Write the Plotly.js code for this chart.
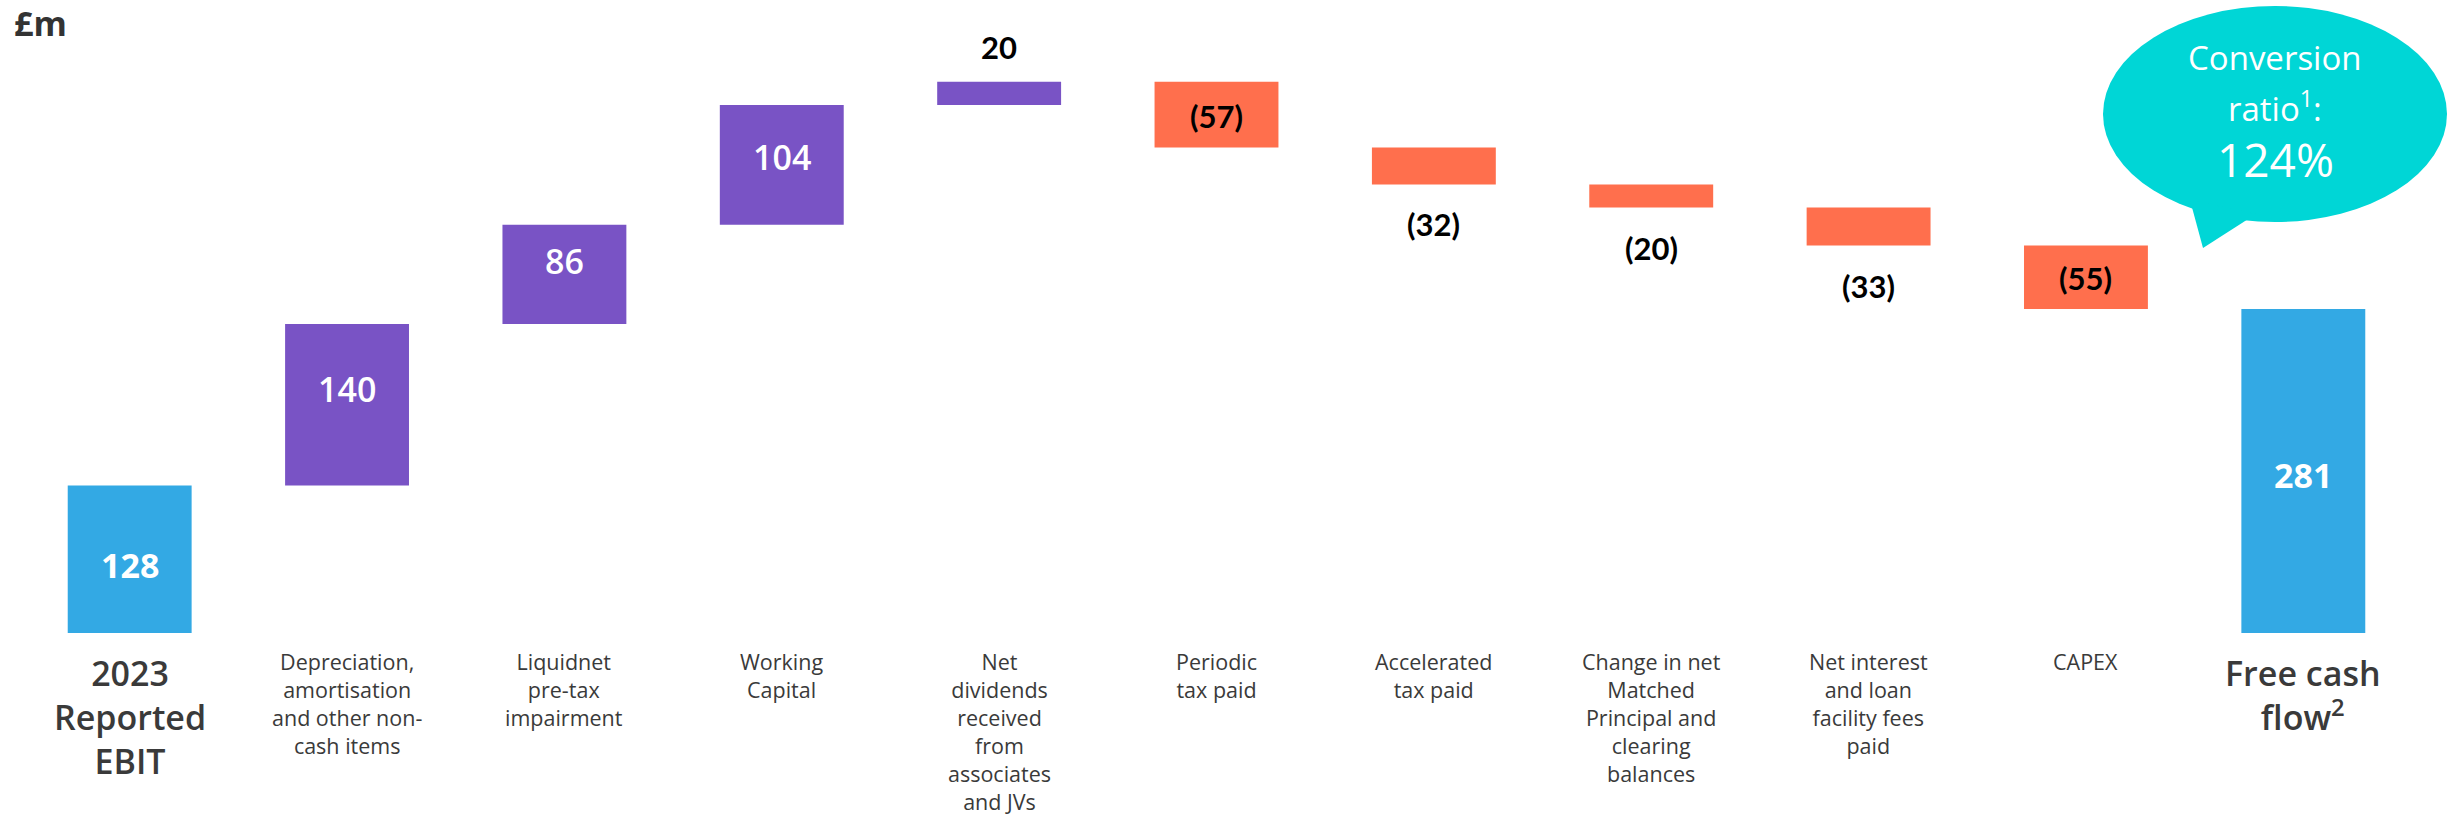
<!DOCTYPE html>
<html>
<head>
<meta charset="utf-8">
<script src="https://cdn.plot.ly/plotly-3.0.1.min.js"></script>
<style>
  html, body { margin: 0; padding: 0; background: #ffffff; }
  #chart { width: 2448px; height: 818px; }
</style>
</head>
<body>
<div id="chart"></div>
<script>
// ---- Data ----
const categories = [
  '2023 Reported EBIT',
  'Depreciation, amortisation and other non-cash items',
  'Liquidnet pre-tax impairment',
  'Working Capital',
  'Net dividends received from associates and JVs',
  'Periodic tax paid',
  'Accelerated tax paid',
  'Change in net Matched Principal and clearing balances',
  'Net interest and loan facility fees paid',
  'CAPEX',
  'Free cash flow'
];
const categoryLabels = [
  '2023<br>Reported<br>EBIT',
  'Depreciation,<br>amortisation<br>and other non-<br>cash items',
  'Liquidnet<br>pre-tax<br>impairment',
  'Working<br>Capital',
  'Net<br>dividends<br>received<br>from<br>associates<br>and JVs',
  'Periodic<br>tax paid',
  'Accelerated<br>tax paid',
  'Change in net<br>Matched<br>Principal and<br>clearing<br>balances',
  'Net interest<br>and loan<br>facility fees<br>paid',
  'CAPEX',
  'Free cash<br>flow<sup>2</sup>'
];
const values = [128, 140, 86, 104, 20, -57, -32, -20, -33, -55, 281];
const measures = ['absolute', 'relative', 'relative', 'relative', 'relative', 'relative',
                  'relative', 'relative', 'relative', 'relative', 'total'];
const valueText = ['128', '140', '86', '104', '20', '(57)', '(32)', '(20)', '(33)', '(55)', '281'];
const unitLabel = '£m';
const bubbleLines = ['Conversion', 'ratio<sup>1</sup>:', '124%'];

// ---- Style (positions / looks) ----
const labelPlacement = ['inside', 'inside', 'inside', 'inside', 'above', 'inside',
                        'below', 'below', 'below', 'inside', 'inside'];
const labelNudge = [-6, 16, 13, 8, 0, -1, 0, 0, 0, -1, -4];
const bigLabel = [true, false, false, false, false, false, false, false, false, false, true];
const bubbleLineY = [58, 106, 159];
const bubbleLineSize = [33, 33, 46];

const COL_TOTAL = '#33A9E4';
const COL_UP = '#7953C5';
const COL_DOWN = '#FF6F4D';
const COL_BUBBLE = '#00D6D6';
const COL_TEXT = '#3A3A3A';

const W = 2448, H = 818;
const M = { l: 21, r: 36, t: 0, b: 185 };
const plotW = W - M.l - M.r, plotH = H - M.t - M.b;
const px = x => (x - M.l) / plotW;
const py = y => (M.t + plotH - y) / plotH;

// running sums for label positions
const bases = [], tops = [];
let run = 0;
values.forEach((v, i) => {
  if (measures[i] === 'absolute') { bases.push(0); tops.push(v); run = v; }
  else if (measures[i] === 'total') { bases.push(0); tops.push(run); }
  else { const b = run; run += v; bases.push(Math.min(b, run)); tops.push(Math.max(b, run)); }
});

const annotations = [];
categories.forEach((c, i) => {
  const neg = values[i] < 0;
  const white = !neg && i !== 4;
  let y, yshift = labelNudge[i];
  if (labelPlacement[i] === 'inside') y = (bases[i] + tops[i]) / 2;
  else if (labelPlacement[i] === 'above') { y = tops[i]; yshift += 35; }
  else { y = bases[i]; yshift -= 40; }
  annotations.push({
    x: c, xref: 'x', y: y, yref: 'y', yshift: yshift,
    text: valueText[i], showarrow: false, xanchor: 'center', yanchor: 'middle',
    font: white
      ? { family: 'Open Sans, sans-serif', size: 34, color: '#ffffff', weight: (i === 0 || i === 10) ? 700 : 600 }
      : { family: 'Lato, sans-serif', size: 31, color: '#000000', weight: 700 }
  });
  annotations.push({
    x: c, xref: 'x', y: py(bigLabel[i] ? 648 : 645), yref: 'paper',
    text: categoryLabels[i], showarrow: false, xanchor: 'center', yanchor: 'top',
    align: 'center',
    font: bigLabel[i]
      ? { family: 'Open Sans, sans-serif', size: 34, color: COL_TEXT, weight: 600 }
      : { family: 'Open Sans, sans-serif', size: 21.5, color: COL_TEXT }
  });
});

// speech bubble text
bubbleLines.forEach((t, k) => {
  annotations.push({
    x: px(2275), xref: 'paper', y: py(bubbleLineY[k]), yref: 'paper',
    text: t, showarrow: false, xanchor: 'center', yanchor: 'middle',
    font: { family: 'Open Sans, sans-serif', size: bubbleLineSize[k], color: '#ffffff' }
  });
});

const shapes = [
  { type: 'circle', xref: 'paper', yref: 'paper',
    x0: px(2103), x1: px(2447), y0: py(222), y1: py(6),
    fillcolor: COL_BUBBLE, line: { width: 0 }, layer: 'below' },
  { type: 'path', xref: 'paper', yref: 'paper',
    path: `M ${px(2190)} ${py(200)} L ${px(2203)} ${py(248)} L ${px(2256)} ${py(214)} Z`,
    fillcolor: COL_BUBBLE, line: { width: 0 }, layer: 'below' }
];

const trace = {
  type: 'waterfall',
  x: categories,
  y: values,
  measure: measures,
  connector: { visible: false },
  increasing: { marker: { color: COL_UP } },
  decreasing: { marker: { color: COL_DOWN } },
  totals: { marker: { color: COL_TOTAL } },
  textinfo: 'none',
  hoverinfo: 'skip'
};

const layout = {
  width: W, height: H,
  margin: M,
  paper_bgcolor: '#ffffff',
  plot_bgcolor: '#ffffff',
  showlegend: false,
  waterfallgap: 0.43,
  title: {
    text: '<b>' + unitLabel + '</b>', xref: 'container', yref: 'container',
    x: 14 / W, xanchor: 'left', y: 1 - 24 / H, yanchor: 'middle',
    font: { family: 'Open Sans, sans-serif', size: 34, color: '#333333' }
  },
  xaxis: { type: 'category', showticklabels: false, showgrid: false, zeroline: false,
           showline: false, ticks: '', range: [-0.5, 10.5], fixedrange: true },
  yaxis: { range: [0, 549], showticklabels: false, showgrid: false, zeroline: false,
           showline: false, ticks: '', fixedrange: true },
  annotations: annotations,
  shapes: shapes
};

Plotly.newPlot('chart', [trace], layout, { displayModeBar: false, staticPlot: true });
</script>
</body>
</html>
